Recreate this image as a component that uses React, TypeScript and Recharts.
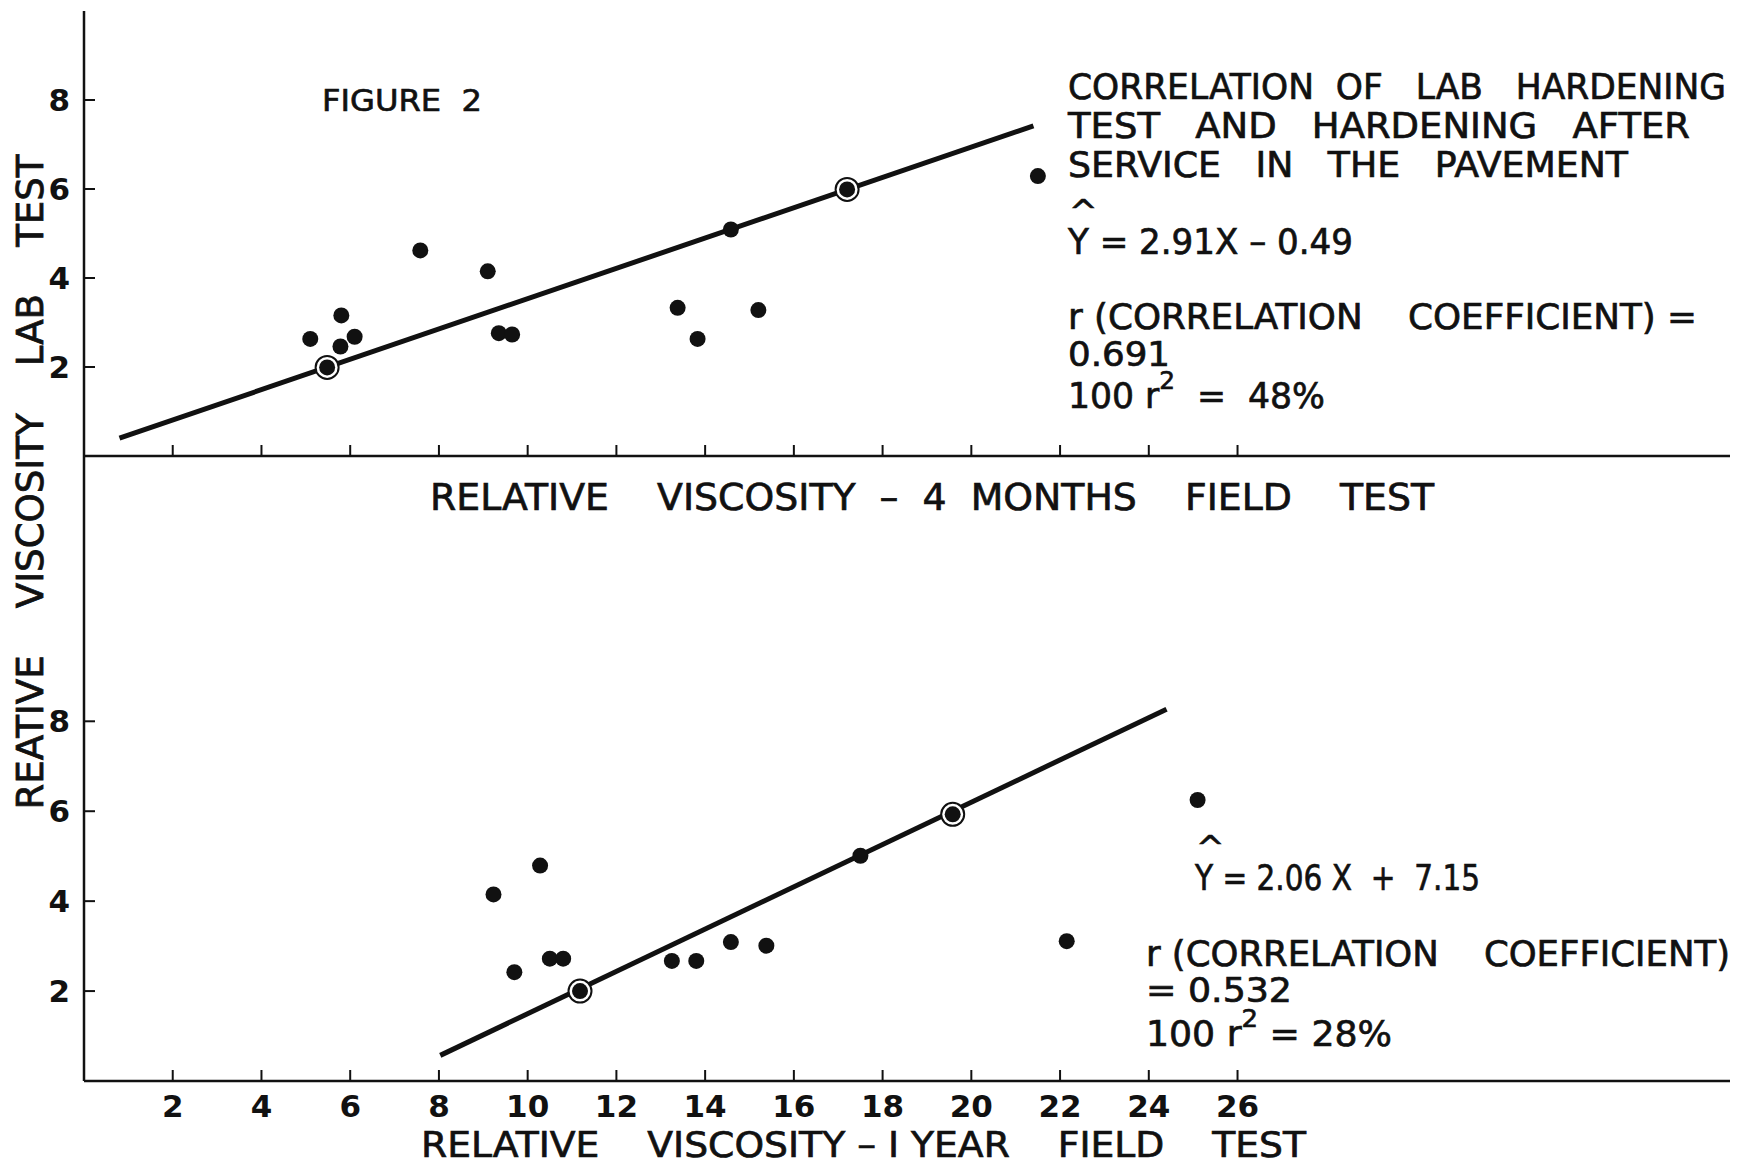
import React from "react";
import { ScatterChart, Scatter, XAxis, YAxis } from "recharts";

// x ticks shared by both panels
const fieldTicks = [2, 4, 6, 8, 10, 12, 14, 16, 18, 20, 22, 24, 26];
const labTicks = [2, 4, 6, 8];

// upper panel: 4 months field test vs lab test
const fourMonthX = [5.1, 5.8, 5.78, 6.1, 7.58, 9.1, 9.35, 9.65, 13.38, 13.83, 14.58, 15.2, 21.5];
const fourMonthY = [2.63, 3.16, 2.46, 2.68, 4.62, 4.15, 2.76, 2.73, 3.33, 2.63, 5.09, 3.28, 6.29];
const fourMonthRingX = [5.48, 17.2];
const fourMonthRingY = [1.99, 5.99];
const fourMonthFitX = [0.8, 21.4];
const fourMonthFitY = [0.4, 7.42];

// lower panel: 1 year field test vs lab test
const oneYearX = [9.23, 10.28, 9.7, 10.5, 10.8, 13.25, 13.8, 14.58, 15.38, 17.5, 22.15, 25.1];
const oneYearY = [4.15, 4.79, 2.42, 2.72, 2.72, 2.67, 2.67, 3.09, 3.01, 5.01, 3.11, 6.25];
const oneYearRingX = [11.18, 19.58];
const oneYearRingY = [2.0, 5.93];
const oneYearFitX = [8.03, 24.4];
const oneYearFitY = [0.57, 8.27];

const zip = (xs: number[], ys: number[]) => xs.map((x, i) => ({ x, y: ys[i] }));

const W = 1739;
const H = 1166;
const FONT = "'DejaVu Sans', sans-serif";
const INK = "#111";

const Dot = (p: any) => <circle cx={p.cx} cy={p.cy} r={8} fill={INK} />;
const Ring = (p: any) => (
  <g>
    <circle cx={p.cx} cy={p.cy} r={11.5} fill="#fff" stroke={INK} strokeWidth={2} />
    <circle cx={p.cx} cy={p.cy} r={8} fill={INK} />
  </g>
);
const NoShape = () => <g />;
const NoTick = () => <g />;

const tickStyle = {
  fontFamily: FONT,
  fontSize: 31,
  fontWeight: 700,
  fill: INK,
};

function Panel({
  top,
  bottom,
  yMax,
  showXLabels,
  dots,
  rings,
  fit,
}: {
  top: number;
  bottom: number;
  yMax: number;
  showXLabels: boolean;
  dots: { x: number; y: number }[];
  rings: { x: number; y: number }[];
  fit: { x: number; y: number }[];
}) {
  return (
    <div style={{ position: "absolute", left: 0, top: 0 }}>
      <ScatterChart width={W} height={H} margin={{ top, right: 9, left: 24, bottom }}>
        <XAxis
          type="number"
          dataKey="x"
          domain={[0, 37.1]}
          ticks={fieldTicks}
          allowDataOverflow
          height={30}
          axisLine={{ stroke: INK, strokeWidth: 2.5 }}
          tickLine={{ stroke: INK, strokeWidth: 2 }}
          tickSize={-11}
          tickMargin={25}
          tick={showXLabels ? tickStyle : NoTick}
        />
        <YAxis
          type="number"
          dataKey="y"
          domain={[0, yMax]}
          ticks={labTicks}
          allowDataOverflow
          width={60}
          axisLine={{ stroke: INK, strokeWidth: 2.5 }}
          tickLine={{ stroke: INK, strokeWidth: 2 }}
          tickSize={-11}
          tickMargin={25}
          tick={tickStyle}
        />
        <Scatter
          data={fit}
          line={{ stroke: INK, strokeWidth: 5 }}
          shape={NoShape}
          isAnimationActive={false}
        />
        <Scatter data={dots} shape={Dot} isAnimationActive={false} />
        <Scatter data={rings} shape={Ring} isAnimationActive={false} />
      </ScatterChart>
    </div>
  );
}

function T({
  x,
  y,
  len,
  size = 35,
  children,
}: {
  x: number;
  y: number;
  len?: number;
  size?: number;
  children: React.ReactNode;
}) {
  return (
    <text
      x={x}
      y={y}
      fontFamily={FONT}
      fontSize={size}
      fill={INK}
      stroke={INK}
      strokeWidth={0.7}
      dominantBaseline="central"
      style={{ whiteSpace: "pre" }}
      textLength={len}
      lengthAdjust={len ? "spacingAndGlyphs" : undefined}
    >
      {children}
    </text>
  );
}

export default function App() {
  return (
    <div style={{ position: "absolute", left: 0, top: 0, width: W, height: H, background: "#fff" }}>
      <Panel
        top={11}
        bottom={680}
        yMax={10}
        showXLabels={false}
        dots={zip(fourMonthX, fourMonthY)}
        rings={zip(fourMonthRingX, fourMonthRingY)}
        fit={zip(fourMonthFitX, fourMonthFitY)}
      />
      <Panel
        top={456}
        bottom={55}
        yMax={13.9}
        showXLabels={true}
        dots={zip(oneYearX, oneYearY)}
        rings={zip(oneYearRingX, oneYearRingY)}
        fit={zip(oneYearFitX, oneYearFitY)}
      />
      <svg
        width={W}
        height={H}
        style={{ position: "absolute", left: 0, top: 0, pointerEvents: "none" }}
      >
        <T x={322} y={100} len={160} size={31}>FIGURE  2</T>

        <T x={1068} y={87} len={658}>CORRELATION  OF   LAB   HARDENING</T>
        <T x={1068} y={126} len={622}>TEST   AND   HARDENING   AFTER</T>
        <T x={1068} y={165} len={560}>SERVICE   IN   THE   PAVEMENT</T>

        <T x={1069} y={212} size={34}>^</T>
        <T x={1068} y={242} len={285}>Y = 2.91X – 0.49</T>

        <T x={1068} y={317} len={629}>r (CORRELATION    COEFFICIENT) =</T>
        <T x={1068} y={354} len={102} size={33}>0.691</T>
        <T x={1068} y={396} len={257}>
          100 r<tspan dy={-16} fontSize={25}>2</tspan>
          <tspan dy={16}>  =  48%</tspan>
        </T>

        <T x={430} y={497} len={1004} size={37}>RELATIVE    VISCOSITY  –  4  MONTHS    FIELD    TEST</T>

        <T x={1196} y={848} size={34}>^</T>
        <T x={1195} y={878} len={285}>Y = 2.06 X  +  7.15</T>
        <T x={1146} y={954} len={584}>r (CORRELATION    COEFFICIENT)</T>
        <T x={1146} y={990} len={146} size={33}>= 0.532</T>
        <T x={1146} y={1034} len={246}>
          100 r<tspan dy={-16} fontSize={25}>2</tspan>
          <tspan dy={16}> = 28%</tspan>
        </T>

        <T x={421} y={1144} len={885} size={36}>RELATIVE    VISCOSITY – I YEAR    FIELD    TEST</T>

        <g transform="rotate(-90 30 482)">
          <text
            x={30}
            y={482}
            fontFamily={FONT}
            fontSize={38}
            fill={INK}
            stroke={INK}
            strokeWidth={0.8}
            textAnchor="middle"
            dominantBaseline="central"
            style={{ whiteSpace: "pre" }}
            textLength={655}
            lengthAdjust="spacingAndGlyphs"
          >
            REATIVE    VISCOSITY    LAB    TEST
          </text>
        </g>
      </svg>
    </div>
  );
}
